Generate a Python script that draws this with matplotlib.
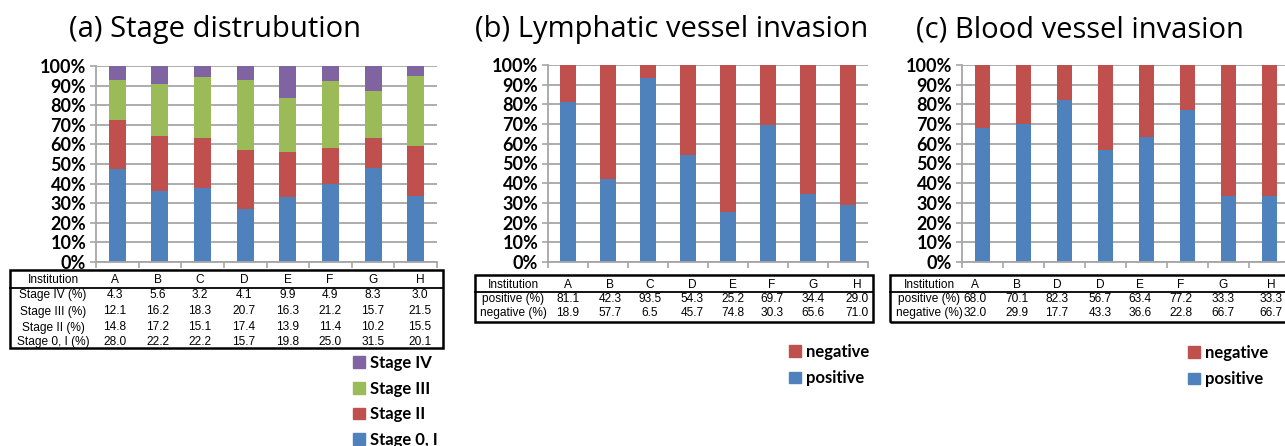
import numpy as np
import matplotlib
matplotlib.use("Agg")
import matplotlib.pyplot as plt
from matplotlib.patches import Patch
from matplotlib.lines import Line2D

W, H = 1285, 446

institutions = ["A", "B", "C", "D", "E", "F", "G", "H"]
stage_iv = [4.3, 5.6, 3.2, 4.1, 9.9, 4.9, 8.3, 3.0]
stage_iii = [12.1, 16.2, 18.3, 20.7, 16.3, 21.2, 15.7, 21.5]
stage_ii = [14.8, 17.2, 15.1, 17.4, 13.9, 11.4, 10.2, 15.5]
stage_0i = [28.0, 22.2, 22.2, 15.7, 19.8, 25.0, 31.5, 20.1]

lvi_pos = [81.1, 42.3, 93.5, 54.3, 25.2, 69.7, 34.4, 29.0]
lvi_neg = [18.9, 57.7, 6.5, 45.7, 74.8, 30.3, 65.6, 71.0]

bvi_labels = ["A", "B", "D", "D", "E", "F", "G", "H"]
bvi_pos = [68.0, 70.1, 82.3, 56.7, 63.4, 77.2, 33.3, 33.3]
bvi_neg = [32.0, 29.9, 17.7, 43.3, 36.6, 22.8, 66.7, 66.7]

BLUE = "#4F81BD"
RED = "#C0504D"
GREEN = "#9BBB59"
PURPLE = "#8064A2"
GRID = "#A6A6A6"

TITLE_FONT = "Open Sans"
LABEL_FONT = "Lato"
TABLE_FONT = "Liberation Sans"


def fx(x):
    return x / W


def fy(y):
    return 1 - y / H


def make_axes(left, right, top, bottom):
    return fig.add_axes([fx(left), fy(bottom), (right - left) / W, (bottom - top) / H])


def style_axes(ax):
    ax.set_xlim(-0.5, 7.5)
    ax.set_ylim(0, 1)
    ax.set_yticks(np.arange(0, 1.01, 0.1))
    ax.set_yticklabels([f"{int(round(v * 100))}%" for v in np.arange(0, 1.01, 0.1)],
                       fontfamily=LABEL_FONT, fontweight="bold", fontsize=13)
    ax.set_xticks(np.arange(-0.5, 8, 1))
    ax.set_xticklabels([])
    ax.yaxis.grid(True, color=GRID, lw=1.3)
    ax.set_axisbelow(True)
    for s in ["top", "right"]:
        ax.spines[s].set_visible(False)
    for s in ["left", "bottom"]:
        ax.spines[s].set_color(GRID)
        ax.spines[s].set_linewidth(1.3)
    ax.tick_params(axis="both", color=GRID, length=4, width=1.2, pad=3)


def draw_table(left, right, top, bottom, header_y, row_ys, sep_y, label_x, col_xs, rows):
    fig.patches.append(plt.Rectangle((fx(left), fy(bottom)), (right - left) / W, (bottom - top) / H,
                                     transform=fig.transFigure, fill=False, ec="black", lw=1.8))
    fig.lines.append(Line2D([fx(left), fx(right)], [fy(sep_y), fy(sep_y)],
                            transform=fig.transFigure, color="black", lw=1.3))
    ys = [header_y] + row_ys
    for (label, vals), y in zip(rows, ys):
        fig.text(fx(label_x), fy(y), label, ha="center", va="center",
                 fontfamily=TABLE_FONT, fontsize=8.6)
        for v, x in zip(vals, col_xs):
            fig.text(fx(x), fy(y), v, ha="center", va="center",
                     fontfamily=TABLE_FONT, fontsize=8.6)


def legend_at(handles, x, y, spacing):
    fig.legend(handles=handles, loc="upper left", bbox_to_anchor=(fx(x), fy(y)), frameon=False,
               handlelength=0.7, handleheight=0.7, handletextpad=0.3, labelspacing=spacing,
               borderpad=0, borderaxespad=0,
               prop={"family": LABEL_FONT, "weight": "bold", "size": 12})


fig = plt.figure(figsize=(W / 100, H / 100), dpi=100)
x = np.arange(len(institutions))

# (a) stage distribution, normalised to 100 %
totals = np.array(stage_iv) + np.array(stage_iii) + np.array(stage_ii) + np.array(stage_0i)
ax1 = make_axes(96, 437, 66, 262)
bottom = np.zeros(len(institutions))
series_a = [(stage_0i, BLUE, "Stage 0, I"), (stage_ii, RED, "Stage II"),
            (stage_iii, GREEN, "Stage III"), (stage_iv, PURPLE, "Stage IV")]
for vals, col, lab in series_a:
    frac = np.array(vals) / totals
    ax1.bar(x, frac, 0.4, bottom=bottom, color=col, label=lab)
    bottom += frac
style_axes(ax1)
fig.text(fx(215), fy(30), "(a) Stage distrubution", ha="center", va="center",
         fontfamily=TITLE_FONT, fontsize=21)

draw_table(10, 443, 270, 348, 280, [295, 311.5, 327.5, 342], 288, 53,
           [115, 158, 200, 244, 288, 330, 373, 420],
           [("Institution", institutions),
            ("Stage IV (%)", [f"{v:.1f}" for v in stage_iv]),
            ("Stage III (%)", [f"{v:.1f}" for v in stage_iii]),
            ("Stage II (%)", [f"{v:.1f}" for v in stage_ii]),
            ("Stage 0, I (%)", [f"{v:.1f}" for v in stage_0i])])

h_a = [Patch(color=c, label=l) for _, c, l in series_a][::-1]
legend_at(h_a, 353, 355, 0.58)

# (b) lymphatic vessel invasion
ax2 = make_axes(548, 868, 65, 262)
ax2.bar(x, np.array(lvi_pos) / 100, 0.38, color=BLUE, label="positive")
ax2.bar(x, np.array(lvi_neg) / 100, 0.38, bottom=np.array(lvi_pos) / 100, color=RED, label="negative")
style_axes(ax2)
fig.text(fx(672), fy(30), "(b) Lymphatic vessel invasion", ha="center", va="center",
         fontfamily=TITLE_FONT, fontsize=21)
draw_table(475, 873, 275, 322, 285, [299, 313], 292, 513,
           [568, 610, 650, 692, 733, 772, 813, 857],
           [("Institution", institutions),
            ("positive (%)", [f"{v:.1f}" for v in lvi_pos]),
            ("negative (%)", [f"{v:.1f}" for v in lvi_neg])])
h_b = [Patch(color=RED, label="negative"), Patch(color=BLUE, label="positive")]
legend_at(h_b, 789, 344, 0.62)

# (c) blood vessel invasion (cropped at the right edge)
ax3 = make_axes(962, 1290, 65, 262)
ax3.bar(x, np.array(bvi_pos) / 100, 0.38, color=BLUE, label="positive")
ax3.bar(x, np.array(bvi_neg) / 100, 0.38, bottom=np.array(bvi_pos) / 100, color=RED, label="negative")
style_axes(ax3)
fig.text(fx(1080), fy(30), "(c) Blood vessel invasion", ha="center", va="center",
         fontfamily=TITLE_FONT, fontsize=21)
draw_table(890, 1300, 275, 322, 285, [299, 313], 292, 929,
           [975, 1017, 1057, 1100, 1140, 1181, 1223, 1271],
           [("Institution", bvi_labels),
            ("positive (%)", [f"{v:.1f}" for v in bvi_pos]),
            ("negative (%)", [f"{v:.1f}" for v in bvi_neg])])
legend_at(h_b, 1188, 345, 0.62)

fig.savefig("out.png", dpi=100)
